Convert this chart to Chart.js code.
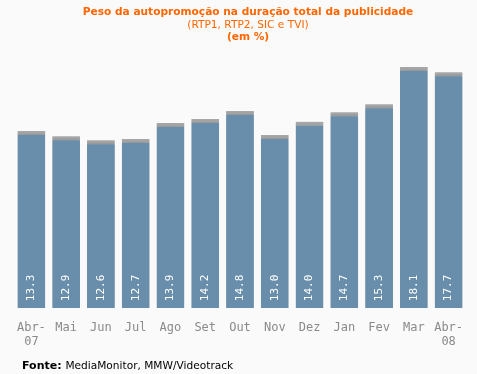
<!DOCTYPE html>
<html>
<head>
<meta charset="utf-8">
<script src="https://cdn.jsdelivr.net/npm/chart.js@4/dist/chart.umd.min.js"></script>
<style>
  html, body { margin: 0; padding: 0; background: #fafafa; }
  #wrap { position: relative; width: 477px; height: 374px; }
</style>
</head>
<body>
<div id="wrap"><canvas id="chart"></canvas></div>
<script>
// data
const months = [["Abr-", "07"], "Mai", "Jun", "Jul", "Ago", "Set", "Out", "Nov", "Dez", "Jan", "Fev", "Mar", ["Abr-", "08"]];
const shares = [13.3, 12.9, 12.6, 12.7, 13.9, 14.2, 14.8, 13.0, 14.0, 14.7, 15.3, 18.1, 17.7];

const titleLines = [
  { text: "Peso da autopromoção na duração total da publicidade", bold: true, y: 12 },
  { text: "(RTP1, RTP2, SIC e TVI)", bold: false, y: 25 },
  { text: "(em %)", bold: true, y: 37 }
];

const FONT = "DejaVu Sans, Verdana, sans-serif";

// header + footer text
const textPlugin = {
  id: "texts",
  afterDraw(chart) {
    const ctx = chart.ctx;
    ctx.save();
    ctx.textAlign = "center";
    ctx.textBaseline = "middle";
    ctx.fillStyle = "#ff6600";
    titleLines.forEach(l => {
      ctx.font = (l.bold ? "bold " : "") + "10.6px " + FONT;
      ctx.fillText(l.text, 248, l.y);
    });
    ctx.textAlign = "left";
    ctx.fillStyle = "#000";
    ctx.font = "bold 11px " + FONT;
    ctx.fillText("Fonte:", 22, 366);
    const w = ctx.measureText("Fonte: ").width;
    ctx.font = "10.6px " + FONT;
    ctx.fillText("MediaMonitor, MMW/Videotrack", 22 + w, 366);
    ctx.restore();
  }
};

// soft shadow round the bars and rotated values inside them
const barPlugin = {
  id: "barExtras",
  beforeDatasetDraw(chart) {
    const ctx = chart.ctx;
    ctx.save();
    ctx.shadowColor = "rgba(0,0,0,0.3)";
    ctx.shadowBlur = 3;
  },
  afterDatasetDraw(chart) {
    const ctx = chart.ctx;
    ctx.restore();
    const meta = chart.getDatasetMeta(0);
    ctx.save();
    ctx.fillStyle = "#fff";
    ctx.font = "11px 'DejaVu Sans Mono', monospace";
    ctx.textAlign = "left";
    ctx.textBaseline = "middle";
    meta.data.forEach((bar, i) => {
      ctx.save();
      ctx.translate(bar.x, bar.base - 7);
      ctx.rotate(-Math.PI / 2);
      ctx.fillText(shares[i].toFixed(1), 0, 0);
      ctx.restore();
    });
    ctx.restore();
  }
};

new Chart(document.getElementById("chart"), {
  type: "bar",
  data: {
    labels: months,
    datasets: [{
      data: shares,
      backgroundColor: "#688eab",
      borderColor: "#a6a6a6",
      borderWidth: { top: 4, left: 0, right: 0, bottom: 0 },
      borderSkipped: false,
      barPercentage: 1,
      categoryPercentage: 0.8
    }]
  },
  options: {
    responsive: true,
    maintainAspectRatio: false,
    animation: false,
    layout: { padding: { left: 14, right: 11, top: 55, bottom: 21 } },
    plugins: { legend: { display: false }, tooltip: { enabled: false } },
    scales: {
      x: {
        grid: { display: false },
        border: { display: false },
        ticks: {
          color: "#8a8a8a",
          font: { family: "'DejaVu Sans Mono', monospace", size: 12 },
          padding: 4,
          maxRotation: 0,
          autoSkip: false
        }
      },
      y: { display: false, min: 0, max: 19 }
    }
  },
  plugins: [textPlugin, barPlugin]
});
</script>
</body>
</html>
